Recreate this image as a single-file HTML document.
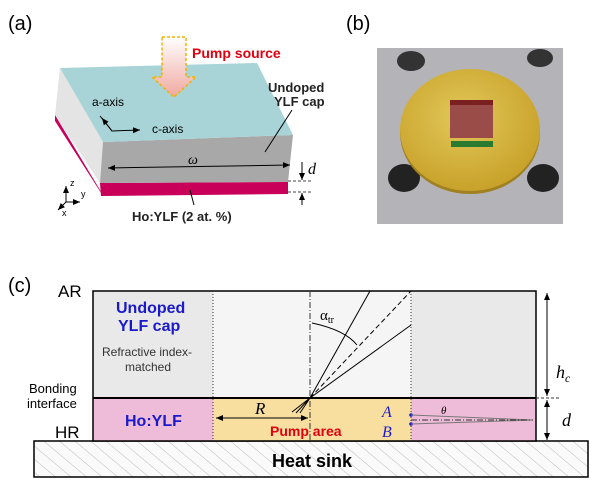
<!DOCTYPE html>
<html><head><meta charset="utf-8"><style>
body{margin:0;background:#fff}
svg{display:block;font-family:"Liberation Sans",sans-serif}
</style></head><body>
<svg width="600" height="487" viewBox="0 0 600 487" xmlns="http://www.w3.org/2000/svg">
<defs>
<linearGradient id="pg" x1="0" y1="0" x2="0" y2="1"><stop offset="0" stop-color="#fff"/><stop offset="1" stop-color="#f0a8a0"/></linearGradient>
<radialGradient id="gd" cx="0.45" cy="0.4" r="0.7"><stop offset="0" stop-color="#e2c85a"/><stop offset="1" stop-color="#c49c22"/></radialGradient>
<pattern id="hatch" width="10" height="10" patternUnits="userSpaceOnUse" patternTransform="rotate(-50)"><rect width="10" height="10" fill="#fafafa"/><line x1="0" y1="0" x2="0" y2="10" stroke="#bbb" stroke-width="1"/></pattern>
<marker id="ar" markerWidth="8" markerHeight="8" refX="7" refY="4" orient="auto-start-reverse"><path d="M0,1 L7,4 L0,7 z" fill="#000"/></marker>
</defs>
<!-- (a) -->
<text x="8" y="30" font-size="20">(a)</text>
<polygon points="55,115 100,190 103,196 55,121" fill="#c8005a"/>
<polygon points="60,68 103,142 100,183 55,115" fill="#e4e4e4"/>
<polygon points="100,183 288,182 288,194 101,196" fill="#c8005a"/>
<polygon points="103,142 293,135 288,182 100,183" fill="#a8a8a8"/>
<polygon points="60,68 257,63 293,135 103,142" fill="#a8d4d8"/>
<polygon points="162,37 186,37 186,77 196,77 174,97 152,77 162,77" fill="url(#pg)" stroke="#f0b400" stroke-width="1.5" stroke-dasharray="3,2"/>
<text x="192" y="58" font-size="14" font-weight="bold" fill="#e00010">Pump source</text>
<text x="268" y="92" font-size="13" font-weight="bold" fill="#222">Undoped</text>
<text x="274" y="106" font-size="13" font-weight="bold" fill="#222">YLF cap</text>
<line x1="292" y1="110" x2="265" y2="152" stroke="#000"/>
<text x="92" y="106" font-size="12">a-axis</text>
<text x="152" y="133" font-size="12">c-axis</text>
<polyline points="100,116 112,131 140,130" fill="none" stroke="#000" marker-end="url(#ar)"/>
<line x1="112" y1="131" x2="102" y2="118" stroke="#000" marker-end="url(#ar)"/>
<line x1="108" y1="168" x2="290" y2="165" stroke="#000" marker-start="url(#ar)" marker-end="url(#ar)"/>
<text x="188" y="164" font-size="14" font-style="italic" font-family="Liberation Serif,serif">ω</text>
<line x1="288" y1="181" x2="312" y2="181" stroke="#444" stroke-dasharray="3,2"/>
<line x1="288" y1="192" x2="312" y2="192" stroke="#444" stroke-dasharray="3,2"/>
<line x1="302" y1="162" x2="302" y2="180" stroke="#000" marker-end="url(#ar)"/>
<line x1="302" y1="205" x2="302" y2="193" stroke="#000" marker-end="url(#ar)"/>
<text x="308" y="174" font-size="16" font-style="italic" font-family="Liberation Serif,serif">d</text>
<line x1="190" y1="190" x2="194" y2="205" stroke="#000"/>
<text x="132" y="221" font-size="13" font-weight="bold" fill="#222">Ho:YLF (2 at. %)</text>
<g stroke="#000" stroke-width="1"><line x1="66" y1="202" x2="66" y2="186" marker-end="url(#ar)"/><line x1="66" y1="202" x2="80" y2="202" marker-end="url(#ar)"/><line x1="66" y1="202" x2="58" y2="210" marker-end="url(#ar)"/></g>
<text x="70" y="186" font-size="9">z</text><text x="81" y="197" font-size="9">y</text><text x="62" y="216" font-size="9">x</text>
<!-- (b) -->
<text x="346" y="30" font-size="20">(b)</text>
<rect x="377" y="48" width="186" height="176" fill="#b4b4b8"/>
<ellipse cx="411" cy="61" rx="14" ry="10" fill="#333"/><ellipse cx="540" cy="58" rx="13" ry="9" fill="#333"/>
<ellipse cx="404" cy="178" rx="16" ry="14" fill="#222"/><ellipse cx="543" cy="178" rx="16" ry="14" fill="#222"/>
<ellipse cx="470" cy="133" rx="70" ry="61" fill="#a08020"/>
<ellipse cx="470" cy="130" rx="70" ry="61" fill="url(#gd)"/>
<rect x="450" y="100" width="43" height="38" fill="#9a4c48"/>
<rect x="450" y="100" width="43" height="5" fill="#7a2020"/>
<rect x="451" y="141" width="42" height="6" fill="#2a7a30"/>
<!-- (c) -->
<text x="8" y="292" font-size="20">(c)</text>
<rect x="34" y="441" width="554" height="36" fill="url(#hatch)" stroke="#000" stroke-width="1.5"/>
<text x="312" y="467" font-size="18" font-weight="bold" text-anchor="middle">Heat sink</text>
<rect x="93" y="291" width="443" height="107" fill="#e9e9e9"/>
<rect x="213" y="291" width="198" height="107" fill="#f5f5f5"/>
<rect x="93" y="398" width="443" height="43" fill="#eebbd8"/>
<rect x="213" y="398" width="198" height="43" fill="#f8dfa0"/>
<rect x="93" y="291" width="443" height="150" fill="none" stroke="#000" stroke-width="1.5"/>
<line x1="93" y1="398" x2="536" y2="398" stroke="#000" stroke-width="2"/>
<line x1="213" y1="291" x2="213" y2="441" stroke="#333" stroke-dasharray="1,2"/>
<line x1="411" y1="291" x2="411" y2="441" stroke="#333" stroke-dasharray="1,2"/>
<line x1="310" y1="291" x2="310" y2="441" stroke="#333" stroke-dasharray="6,2,1,2"/>
<line x1="310" y1="398" x2="370" y2="291" stroke="#000"/>
<line x1="310" y1="398" x2="411" y2="325" stroke="#000"/>
<line x1="310" y1="398" x2="411" y2="291" stroke="#000" stroke-dasharray="5,3"/>
<path d="M312,323 Q345,330 357,345" fill="none" stroke="#000"/>
<text x="320" y="320" font-size="15" font-family="Liberation Serif,serif">α<tspan font-size="10" dy="3">tr</tspan></text>
<path d="M310,398 L292,412 M310,398 L296,413 M310,398 L300,413" stroke="#000"/>
<line x1="216" y1="418" x2="308" y2="418" stroke="#000" marker-start="url(#ar)" marker-end="url(#ar)"/>
<text x="255" y="414" font-size="17" font-style="italic" font-family="Liberation Serif,serif">R</text>
<text x="270" y="436" font-size="14" font-weight="bold" fill="#e00010">Pump area</text>
<text x="382" y="417" font-size="16" font-style="italic" fill="#1a1acc" font-family="Liberation Serif,serif">A</text>
<text x="382" y="437" font-size="16" font-style="italic" fill="#1a1acc" font-family="Liberation Serif,serif">B</text>
<circle cx="411" cy="415" r="1.8" fill="#1a1acc"/><circle cx="411" cy="424" r="1.8" fill="#1a1acc"/>
<line x1="411" y1="415" x2="533" y2="420" stroke="#777"/><line x1="411" y1="424" x2="533" y2="420" stroke="#777"/>
<line x1="411" y1="420" x2="533" y2="420" stroke="#333" stroke-dasharray="6,2,1,2"/>
<text x="441" y="414" font-size="11" font-style="italic" font-family="Liberation Serif,serif">θ</text>
<text x="116" y="313" font-size="16" font-weight="bold" fill="#1a1acc">Undoped</text>
<text x="118" y="331" font-size="16" font-weight="bold" fill="#1a1acc">YLF cap</text>
<text x="102" y="356" font-size="12" fill="#333">Refractive index-</text>
<text x="125" y="371" font-size="12" fill="#333">matched</text>
<text x="125" y="426" font-size="16" font-weight="bold" fill="#1a1acc">Ho:YLF</text>
<text x="58" y="297" font-size="17">AR</text>
<text x="55" y="438" font-size="17">HR</text>
<text x="29" y="393" font-size="13">Bonding</text>
<text x="27" y="408" font-size="13">interface</text>
<line x1="536" y1="398" x2="560" y2="398" stroke="#333" stroke-dasharray="3,2"/>
<line x1="547" y1="396" x2="547" y2="293" stroke="#000" marker-end="url(#ar)" marker-start="url(#ar)"/>
<line x1="547" y1="400" x2="547" y2="440" stroke="#000" marker-end="url(#ar)" marker-start="url(#ar)"/>
<text x="556" y="378" font-size="18" font-style="italic" font-family="Liberation Serif,serif">h<tspan font-size="12" dy="4">c</tspan></text>
<text x="562" y="426" font-size="18" font-style="italic" font-family="Liberation Serif,serif">d</text>
</svg>
</body></html>
